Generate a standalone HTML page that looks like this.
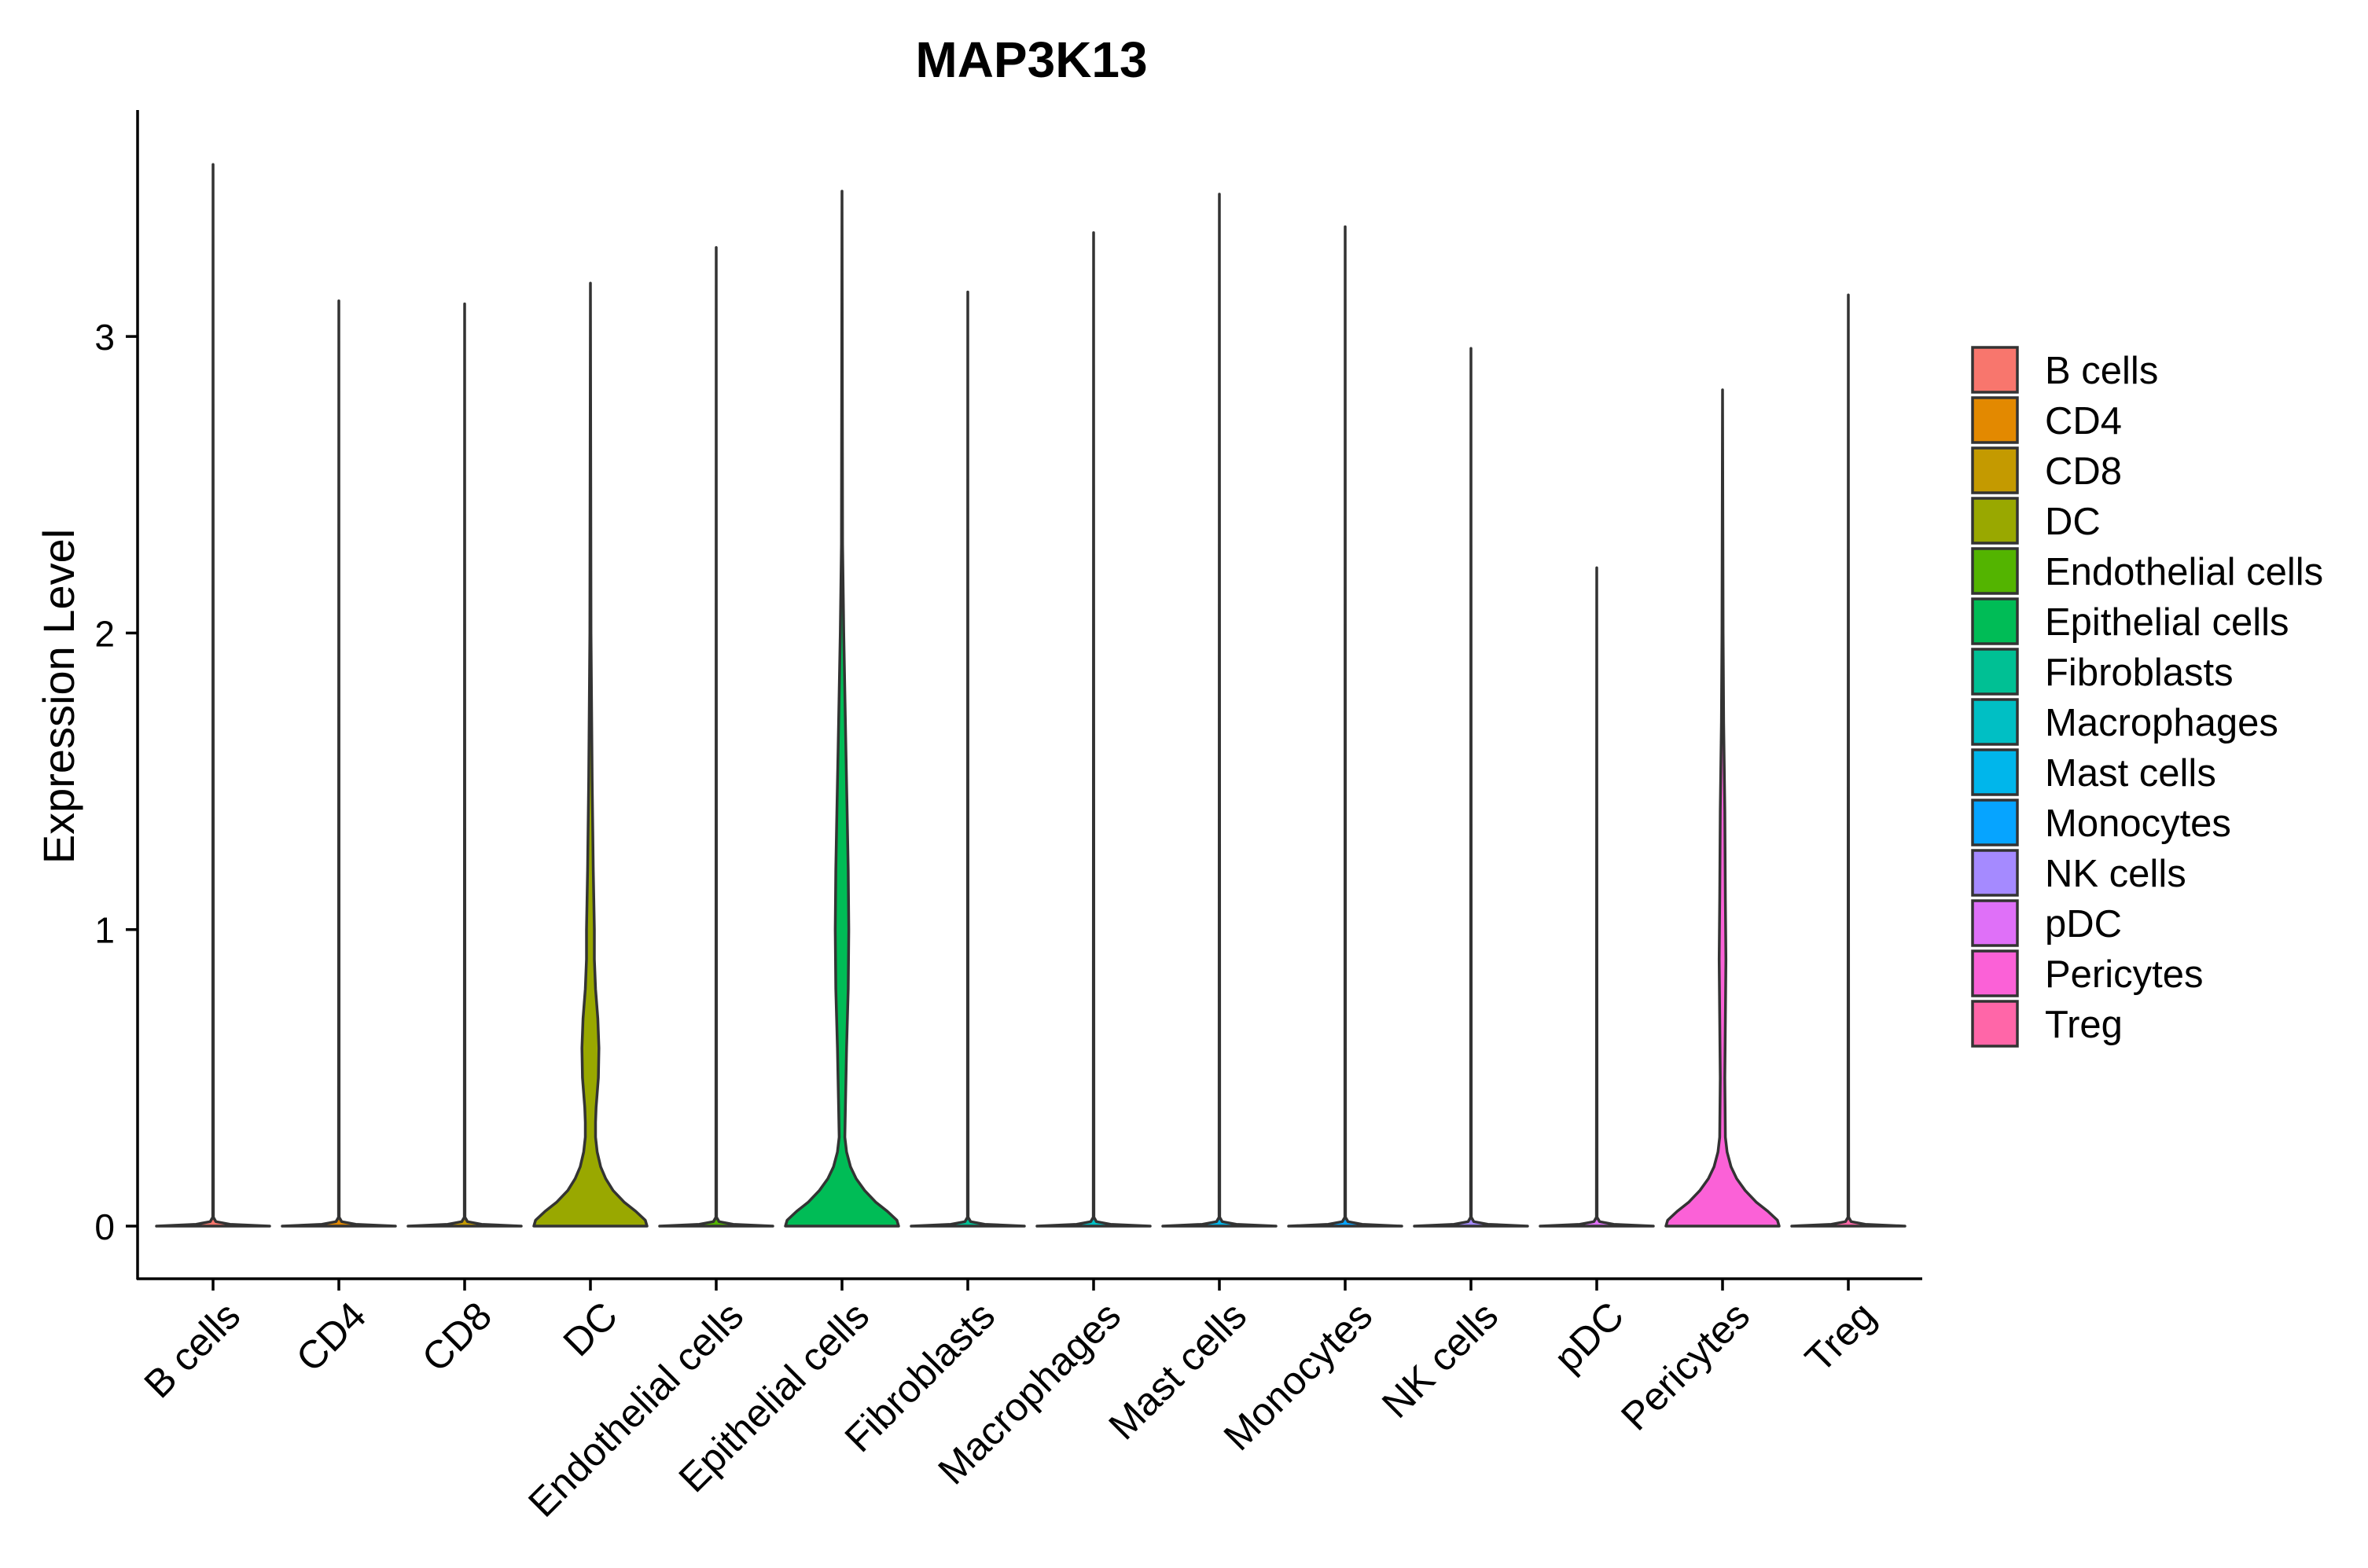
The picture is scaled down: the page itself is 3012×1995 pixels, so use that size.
<!DOCTYPE html>
<html><head><meta charset="utf-8"><style>
html,body{margin:0;padding:0;background:#fff}
svg{display:block}
text{font-family:"Liberation Sans",Arial,sans-serif;fill:#000}
</style></head><body>
<svg id="chart" width="3012" height="1995" viewBox="0 0 3012 1995" xmlns="http://www.w3.org/2000/svg">
<text x="1312" y="98" font-size="64" font-weight="bold" text-anchor="middle">MAP3K13</text>
<text transform="translate(94,886) rotate(-90)" font-size="56" text-anchor="middle">Expression Level</text>
<g id="plot"></g>
<g id="legend"></g>
</svg>
<script>
const categories = ["B cells","CD4","CD8","DC","Endothelial cells","Epithelial cells","Fibroblasts","Macrophages","Mast cells","Monocytes","NK cells","pDC","Pericytes","Treg"];
const colors = ["#F8766D","#E38900","#C49A00","#99A800","#53B400","#00BC56","#00C094","#00BFC4","#00B6EB","#06A4FF","#A58AFF","#DF70F8","#FB61D7","#FF66A8"];
const maxValues = [3.58,3.12,3.11,3.18,3.30,3.49,3.15,3.35,3.48,3.37,2.96,2.22,2.82,3.14];
const yTicks = [0,1,2,3];
// density profiles: [value, relative half-width]
const profileDC = [[0,1],[0.02,0.97],[0.05,0.8],[0.08,0.6],[0.12,0.4],[0.16,0.27],[0.2,0.18],[0.25,0.12],[0.3,0.09],[0.35,0.09],[0.4,0.1],[0.5,0.14],[0.6,0.15],[0.7,0.13],[0.8,0.09],[0.9,0.07],[1.0,0.07],[1.2,0.05],[1.5,0.03],[2.0,0.01]];
const profileEpi = [[0,1],[0.02,0.97],[0.05,0.8],[0.08,0.6],[0.12,0.4],[0.16,0.25],[0.2,0.15],[0.25,0.08],[0.3,0.05],[0.4,0.06],[0.6,0.08],[0.8,0.11],[1.0,0.12],[1.2,0.11],[1.4,0.09],[1.6,0.07],[1.8,0.05],[2.0,0.03],[2.3,0.01]];
const profilePeri = [[0,1],[0.02,0.97],[0.05,0.8],[0.08,0.6],[0.12,0.4],[0.16,0.25],[0.2,0.15],[0.25,0.08],[0.3,0.05],[0.5,0.04],[0.7,0.05],[0.9,0.06],[1.1,0.05],[1.4,0.04],[1.7,0.02],[2.0,0.01]];
const profileFlat = [[0,1],[0.006,0.3],[0.015,0.05],[0.03,0.005]];

const NS="http://www.w3.org/2000/svg";
const X0=271, DX=160, Y0=1560, YU=377.3, HALF=72;
const xS=i=>X0+i*DX, yS=v=>Y0-v*YU;
const plot=document.getElementById('plot');
function mk(t,a,p){const e=document.createElementNS(NS,t);for(const k in a)e.setAttribute(k,a[k]);(p||plot).appendChild(e);return e;}
function profileFor(c){return c==="DC"?profileDC:c==="Epithelial cells"?profileEpi:c==="Pericytes"?profilePeri:profileFlat;}

categories.forEach((c,i)=>{
  const prof=profileFor(c).concat([[maxValues[i],0]]);
  const cx=xS(i);
  let r=prof.map(p=>[cx+p[1]*HALF, yS(p[0])]);
  let l=prof.slice().reverse().map(p=>[cx-p[1]*HALF, yS(p[0])]);
  const pts=r.concat(l);
  let d="M"+pts.map(p=>p[0].toFixed(1)+","+p[1].toFixed(1)).join(" L")+"Z";
  const v=mk('path',{d:d,fill:colors[i],stroke:'#333','stroke-width':3.5,'stroke-linejoin':'round'});
  
  
  const t=mk('line',{x1:cx,x2:cx,y1:1627,y2:1642,stroke:'#000','stroke-width':3.5});
  
  
  const lb=mk('text',{transform:`translate(${cx+12},${1652}) rotate(-45)`,'font-size':50,'text-anchor':'end','dominant-baseline':'hanging'});
  lb.textContent=c;
  
  
});
yTicks.forEach(v=>{
  const t=mk('line',{x1:160,x2:175,y1:yS(v),y2:yS(v),stroke:'#000','stroke-width':3.5});
  
  
  const lb=mk('text',{x:146,y:yS(v)+17,'font-size':46,'text-anchor':'end'});
  lb.textContent=v;
  
  
});
const ya=mk('line',{x1:175,x2:175,y1:140,y2:1628,stroke:'#000','stroke-width':3.5});


const xa=mk('line',{x1:174,x2:2445,y1:1627,y2:1627,stroke:'#000','stroke-width':3.5});



const lg=document.getElementById('legend');
categories.forEach((c,i)=>{
  const y=442+i*64;
  const r=mk('rect',{x:2509,y:y,width:57,height:57,fill:colors[i],stroke:'#333','stroke-width':3.5},lg);
  
  
  const t=mk('text',{x:2601,y:y+46,'font-size':49},lg);
  t.textContent=c;
  
  
});
</script>
</body></html>
